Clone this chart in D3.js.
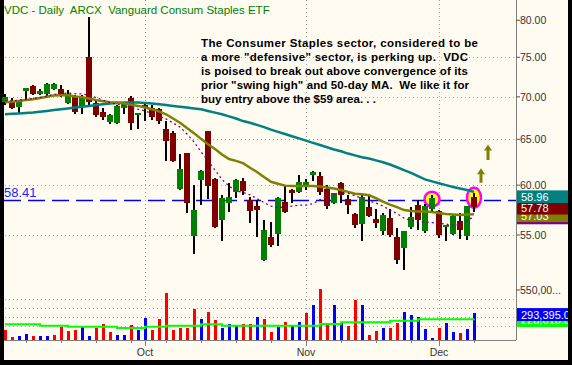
<!DOCTYPE html>
<html>
<head>
<meta charset="utf-8">
<script src="https://cdn.jsdelivr.net/npm/d3@7"></script>
<style>
  body { margin: 0; background: #000; }
  svg { display: block; }
  text { font-family: "Liberation Sans", Arial, sans-serif; }
</style>
</head>
<body>
<div id="chart"></div>
<script>
// trading days shown (Sep 3 - Dec 8, 2008)
const sepDays = [3,4,5,8,9,10,11,12,15,16,17,18,19,22,23,24,25,26,29,30];
const octDays = [1,2,3,6,7,8,9,10,13,14,15,16,17,20,21,22,23,24,27,28,29,30,31];
const novDays = [3,4,5,6,7,10,11,12,13,14,17,18,19,20,21,24,25,26,28];
const decDays = [1,2,3,4,5,8];

// daily OHLC
const opens  = [69.4,69.4,68.8,70.75,71.3,70.4,70.35,71.0,70.95,69.2,70.05,68.9,75.1,69.3,68.2,67.0,66.9,68.6,69.85,67.8,
                69.0,68.6,68.5,66.2,65.7,59.6,63.5,54.95,60.5,65.95,60.65,56.5,58.2,59.3,60.4,58.5,57.85,52.65,54.8,55.1,
                58.3,59.5,59.3,59.8,61.1,60.95,59.55,58.2,60.2,58.6,57.1,56.1,57.8,56.6,55.4,56.7,54.85,53.8,55.8,57.95,
                55.4,57.55,57.4,55.75,55.1,56.35,54.9,58.8];
const highs  = [70.3,69.9,69.6,71.1,71.4,71.0,71.7,71.7,71.5,70.85,70.2,70.2,80.5,69.5,68.7,67.9,69.0,69.3,70.1,68.1,
                69.2,69.0,68.7,67.1,65.9,63.35,63.5,60.05,61.6,66.0,60.8,59.0,60.2,60.6,60.8,58.8,58.5,56.5,56.25,58.8,
                60.0,59.6,61.1,60.7,61.5,61.4,60.0,59.2,60.3,59.0,57.2,59.2,59.0,57.6,57.2,57.55,55.65,55.4,57.8,58.5,
                58.1,59.0,57.5,56.0,57.0,57.2,57.9,59.2];
const lows   = [69.0,68.5,68.1,69.6,70.2,70.2,70.0,70.8,70.0,69.1,67.9,67.9,69.0,67.6,67.2,66.8,66.8,67.95,66.1,66.2,
                67.1,67.2,66.7,62.6,62.5,59.5,57.2,53.2,57.96,58.6,55.7,54.4,57.3,58.7,59.0,56.2,54.8,52.6,53.9,53.95,
                57.2,58.2,59.2,59.5,60.4,59.0,57.55,58.1,58.2,57.1,55.7,54.45,56.8,55.7,55.0,54.85,52.3,51.7,55.55,55.5,
                55.2,57.4,54.7,54.4,55.0,54.6,54.5,57.25];
const closes = [70.0,68.7,69.5,71.05,70.35,70.7,71.6,71.6,70.3,70.35,68.2,70.0,69.4,67.8,67.6,67.8,68.9,69.2,66.85,68.05,
                68.6,67.6,67.1,64.85,62.6,61.7,58.2,57.5,61.5,59.9,55.8,58.7,58.8,60.5,59.35,57.35,57.45,55.5,54.05,58.7,
                57.3,59.2,60.3,60.3,61.4,59.3,57.9,59.15,58.98,57.95,55.95,58.8,56.9,56.2,57.0,55.0,52.65,55.4,56.8,56.5,
                57.85,58.7,55.0,55.95,56.85,55.5,57.85,57.78];

// moving averages
const ma50 = [67.9,67.95,68.0,68.05,68.1,68.2,68.3,68.4,68.5,68.6,68.7,68.8,68.9,69.0,69.1,69.2,69.25,69.3,69.3,69.3,
              69.25,69.2,69.1,69.0,68.9,68.8,68.7,68.6,68.5,68.3,68.1,67.9,67.65,67.4,67.1,66.9,66.65,66.4,66.1,65.85,
              65.6,65.35,65.1,64.85,64.6,64.35,64.1,63.85,63.65,63.4,63.2,63.0,62.85,62.65,62.45,62.2,61.9,61.6,61.3,60.95,
              60.6,60.4,60.2,60.0,59.8,59.65,59.5,59.3];
const ma20 = [69.35,69.4,69.5,69.6,69.7,69.85,70.0,70.15,70.2,70.2,70.05,69.95,69.8,69.6,69.45,69.35,69.3,69.2,69.05,68.9,
              68.7,68.5,68.25,67.9,67.4,66.9,66.3,65.7,65.05,64.45,63.9,63.3,62.8,62.6,62.35,61.85,61.4,60.85,60.35,60.15,
              59.95,59.9,59.9,59.9,59.9,59.85,59.75,59.65,59.5,59.3,59.1,59.05,58.95,58.65,58.3,58.0,57.75,57.45,57.35,57.3,
              57.3,57.25,57.15,57.05,57.0,56.95,57.0,57.03];
const ma10 = [69.5,69.5,69.6,69.7,69.8,69.9,70.1,70.3,70.4,70.45,70.4,70.35,70.2,69.9,69.6,69.3,69.1,68.9,68.7,68.5,
              68.3,68.0,67.7,67.35,66.9,66.4,65.6,64.7,63.6,62.6,61.6,60.6,59.9,59.4,59.25,59.0,58.6,58.2,57.85,57.7,
              57.75,57.85,57.95,57.95,58.1,58.5,58.8,59.05,59.2,59.15,58.9,58.6,58.35,58.15,57.85,57.45,57.1,56.65,56.4,56.25,
              56.25,56.2,56.15,56.05,55.95,56.0,56.4,56.8];
const ma50Label = 58.96;

// volume (shares) and its average
const volumes = [102000,25000,36000,58000,36000,36000,36000,47000,135000,91000,102000,146000,36000,124000,168000,80000,47000,47000,157000,102000,
                 234000,102000,223000,520000,102000,124000,124000,344000,223000,311000,212000,124000,168000,157000,168000,168000,245000,223000,80000,135000,
                 190000,157000,190000,300000,388000,564000,179000,388000,179000,146000,443000,388000,47000,91000,124000,124000,179000,311000,267000,245000,
                 113000,14000,124000,179000,80000,69000,113000,293395];
const volUp = [0,0,1,1,0,1,1,0,0,0,0,1,1,0,0,0,1,1,0,1,
               1,0,0,0,0,0,0,0,1,0,0,1,1,1,0,0,1,0,0,1,
               0,1,1,0,1,0,0,1,1,0,0,1,0,0,1,0,0,1,1,1,
               1,1,0,1,1,0,1,1];
const volAvg = [169000,169000,169000,169000,169000,153000,153000,153000,153000,142000,142000,142000,142000,142000,142000,142000,128000,128000,128000,128000,
                142000,142000,142000,153000,153000,153000,153000,153000,169000,169000,169000,153000,153000,153000,153000,153000,153000,153000,153000,153000,
                153000,153000,153000,153000,153000,172000,172000,172000,191000,191000,191000,191000,191000,191000,191000,209000,209000,209000,209000,224000,
                224000,224000,224000,224000,224000,224000,224000,228010];

const priceTicks = [55, 60, 65, 70, 75, 80];
const priceGrid = [55, 60, 65, 70, 75];
const volTicks = [550000];
const volGrid = [150000, 250000, 350000, 450000];
const monthNames = ['Oct', 'Nov', 'Dec'];
const breakoutLevel = 58.41;

const noteLines = [
  'The Consumer Staples sector, considered to be',
  'a more "defensive" sector, is perking up.  VDC',
  'is poised to break out above convergence of its',
  'prior "swing high" and 50-day MA.  We like it for',
  'buy entry above the $59 area. . .'
];
const noteWidths = [277, 267, 267, 268, 175];
// highlighted bars [index, price, x radius, y radius] and arrows [index, tip price, tail price]
const circles = [[61, 58.55, 7.5, 7.5], [67, 58.7, 7, 10]];
const arrows = [[68, 61.8, 60.25], [69, 64.4, 62.7]];

// build dates
const dates = [];
[[8, sepDays], [9, octDays], [10, novDays], [11, decDays]].forEach(([m, days]) => {
  days.forEach(d => dates.push(new Date(2008, m, d)));
});

const width = 572, height = 365;
const axisX = 516;

const svg = d3.select('#chart').append('svg')
  .attr('width', width).attr('height', height);

svg.append('rect').attr('width', width).attr('height', height).attr('fill', '#000');
svg.append('rect').attr('x', 4).attr('y', 0).attr('width', 564).attr('height', 360).attr('fill', '#fffbf0');

const x = d3.scaleLinear().domain([0, dates.length - 1]).range([5, 474]);
const y = d3.scaleLog().domain([55, 75]).range([235, 57.3]);
const yv = d3.scaleLinear().domain([0, 550000]).range([339.5, 290]);

// gridlines
const monthStarts = [];
dates.forEach((d, i) => { if (i > 0 && d.getMonth() !== dates[i - 1].getMonth()) monthStarts.push(i); });

const grid = svg.append('g').attr('stroke', '#a0a0a0').attr('stroke-dasharray', '1,3');
grid.selectAll('.hg').data(priceGrid).enter().append('line')
  .attr('x1', 5).attr('x2', axisX).attr('y1', d => Math.round(y(d)) + 0.5).attr('y2', d => Math.round(y(d)) + 0.5);
grid.selectAll('.vg').data(volGrid).enter().append('line')
  .attr('x1', 5).attr('x2', axisX).attr('y1', d => Math.round(yv(d)) + 0.5).attr('y2', d => Math.round(yv(d)) + 0.5);
grid.selectAll('.mg').data(monthStarts).enter().append('line')
  .attr('x1', d => x(d) + 0.5).attr('x2', d => x(d) + 0.5).attr('y1', 0).attr('y2', 340);

// breakout level
svg.append('line')
  .attr('x1', 4).attr('x2', axisX).attr('y1', y(breakoutLevel)).attr('y2', y(breakoutLevel))
  .attr('stroke', '#0000ff').attr('stroke-width', 1.5).attr('stroke-dasharray', '17,7');
svg.append('text').attr('x', 4).attr('y', y(breakoutLevel) - 3.5)
  .attr('fill', '#2020ff').style('font-size', '13px').text(breakoutLevel.toFixed(2));

// highlight circles
svg.selectAll('.hl').data(circles).enter().append('ellipse')
  .attr('cx', d => x(d[0])).attr('cy', d => y(d[1])).attr('rx', d => d[2]).attr('ry', d => d[3])
  .attr('fill', '#ffff00').attr('stroke', '#ff00ff').attr('stroke-width', 2.5);

// candles
const idx = d3.range(dates.length);
const candles = svg.append('g').attr('shape-rendering', 'crispEdges');
candles.selectAll('.wick').data(idx).enter().append('rect')
  .attr('x', i => x(i) - 1).attr('width', 2)
  .attr('y', i => y(highs[i])).attr('height', i => y(lows[i]) - y(highs[i]))
  .attr('fill', '#000');
candles.selectAll('.body').data(idx).enter().append('rect')
  .attr('x', i => x(i) - 3).attr('width', 6)
  .attr('y', i => y(Math.max(opens[i], closes[i])))
  .attr('height', i => Math.max(1.5, Math.abs(y(opens[i]) - y(closes[i]))))
  .attr('fill', i => closes[i] >= opens[i] ? '#008000' : '#800000');

// moving averages
const line = arr => d3.line().x((d, i) => x(i)).y(d => y(d))(arr);
svg.append('path').attr('d', line(ma50)).attr('fill', 'none').attr('stroke', '#008080').attr('stroke-width', 2.5);
svg.append('path').attr('d', line(ma20)).attr('fill', 'none').attr('stroke', '#808000').attr('stroke-width', 2.5);
svg.append('path').attr('d', line(ma10)).attr('fill', 'none').attr('stroke', '#800080').attr('stroke-width', 1.3).attr('stroke-dasharray', '2,3');

// arrows
arrows.forEach(([i, tip, tail]) => {
  const cx = x(i), ty = y(tip), by = y(tail);
  svg.append('path')
    .attr('d', `M${cx},${ty} L${cx + 4},${ty + 6} L${cx + 1.5},${ty + 6} L${cx + 1.5},${by} L${cx - 1.5},${by} L${cx - 1.5},${ty + 6} L${cx - 4},${ty + 6} Z`)
    .attr('fill', '#808000');
});

// volume
const vol = svg.append('g').attr('shape-rendering', 'crispEdges');
vol.selectAll('rect').data(idx).enter().append('rect')
  .attr('x', i => x(i) - 1).attr('width', 3)
  .attr('y', i => yv(volumes[i])).attr('height', i => yv(0) - yv(volumes[i]))
  .attr('fill', i => volUp[i] ? '#0000ff' : '#ff0000');
svg.append('path').attr('d', d3.line().x((d, i) => x(i)).y(d => yv(d)).curve(d3.curveStepAfter)(volAvg))
  .attr('fill', 'none').attr('stroke', '#00ff00').attr('stroke-width', 2);

// axes
svg.append('line').attr('x1', axisX + 0.5).attr('x2', axisX + 0.5).attr('y1', 0).attr('y2', 340)
  .attr('stroke', '#808080');
svg.append('line').attr('x1', 4).attr('x2', axisX).attr('y1', 340.5).attr('y2', 340.5)
  .attr('stroke', '#808080');

const rAxis = svg.append('g');
rAxis.selectAll('line').data(priceTicks).enter().append('line')
  .attr('x1', axisX).attr('x2', axisX + 4).attr('y1', d => y(d)).attr('y2', d => y(d)).attr('stroke', '#555');
rAxis.selectAll('text').data(priceTicks).enter().append('text')
  .attr('x', axisX + 4).attr('y', d => y(d) + 4)
  .attr('fill', '#333').style('font-size', '10.5px').text(d => d.toFixed(2));
const vAxis = svg.append('g');
vAxis.selectAll('line').data(volTicks).enter().append('line')
  .attr('x1', axisX).attr('x2', axisX + 4).attr('y1', d => yv(d)).attr('y2', d => yv(d)).attr('stroke', '#555');
vAxis.selectAll('text').data(volTicks).enter().append('text')
  .attr('x', axisX + 4).attr('y', d => yv(d) + 4)
  .attr('fill', '#333').style('font-size', '10.5px').text('550,00...');

// bottom ticks: weekly and monthly
const weekStarts = [];
dates.forEach((d, i) => { if (i > 0 && d.getDay() < dates[i - 1].getDay()) weekStarts.push(i); });
svg.selectAll('.wt').data(weekStarts).enter().append('line')
  .attr('x1', i => x(i) + 0.5).attr('x2', i => x(i) + 0.5).attr('y1', 340).attr('y2', 343)
  .attr('stroke', '#808080');
svg.selectAll('.mt').data(monthStarts).enter().append('line')
  .attr('x1', i => x(i) + 0.5).attr('x2', i => x(i) + 0.5).attr('y1', 340).attr('y2', 346)
  .attr('stroke', '#808080');
svg.selectAll('.ml').data(monthStarts).enter().append('text')
  .attr('x', i => x(i)).attr('y', 356).attr('text-anchor', 'middle')
  .attr('fill', '#333').style('font-size', '10.5px').text((d, k) => monthNames[k]);

// value labels at right (drawn bottom-first so upper ones cover)
function valueBox(yPos, fill, label) {
  const top = yPos - 5;
  const clipId = 'c' + Math.round(yPos * 10);
  svg.append('clipPath').attr('id', clipId).append('rect')
    .attr('x', axisX + 1).attr('y', top).attr('width', 51).attr('height', 13);
  const g = svg.append('g').attr('clip-path', `url(#${clipId})`);
  g.append('rect').attr('x', axisX + 1).attr('y', top).attr('width', 51).attr('height', 13).attr('fill', fill);
  g.append('text').attr('x', axisX + 5).attr('y', top + 10.5).attr('fill', '#fff')
    .style('font-size', '11px').text(label);
}
const lastI = dates.length - 1;
valueBox(y(ma10[lastI]), '#800080', ma10[lastI].toFixed(2));
valueBox(y(ma20[lastI]), '#808000', ma20[lastI].toFixed(2));
valueBox(y(closes[lastI]), '#800000', closes[lastI].toFixed(2));
valueBox(y(ma50Label), '#008080', ma50Label.toFixed(2));
valueBox(yv(volAvg[lastI]), '#00ff00', d3.format(',.1f')(volAvg[lastI]));
valueBox(yv(volumes[lastI]), '#0000ff', d3.format(',.1f')(volumes[lastI]));

// title
svg.append('text').attr('x', 4).attr('y', 14).attr('fill', '#008000')
  .style('font-size', '11.5px').style('white-space', 'pre')
  .text('VDC - Daily  ARCX  Vanguard Consum Staples ETF');

// note
svg.append('g').selectAll('text').data(noteLines).enter().append('text')
  .attr('x', 201).attr('y', (d, i) => 46.5 + i * 14)
  .attr('textLength', (d, i) => noteWidths[i]).attr('lengthAdjust', 'spacing')
  .attr('fill', '#000').style('font-size', '11.5px').style('font-weight', 'bold').style('white-space', 'pre')
  .text(d => d);
</script>
</body>
</html>
